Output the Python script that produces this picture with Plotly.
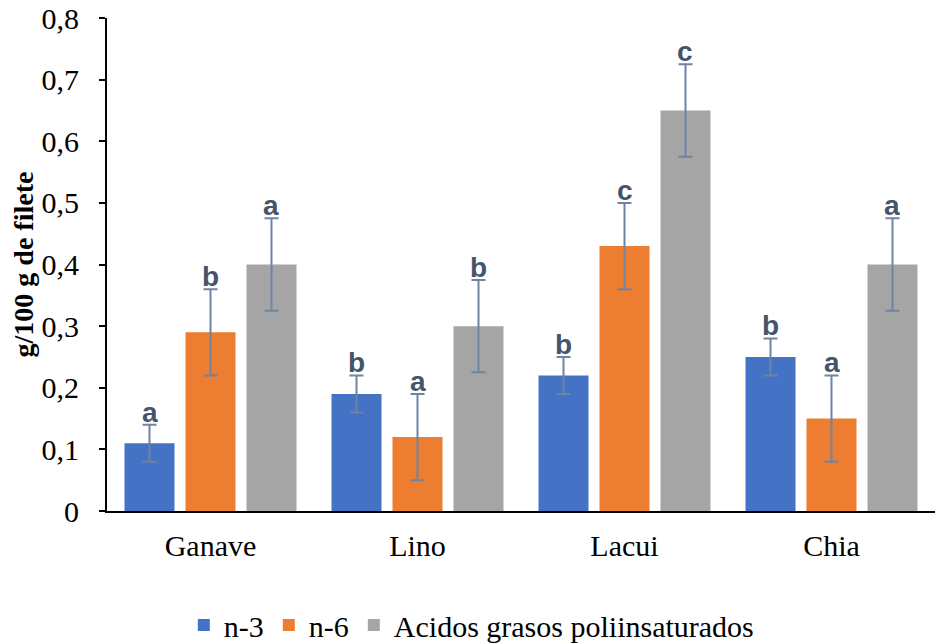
import plotly.graph_objects as go

categories = ["Ganave", "Lino", "Lacui", "Chia"]
series_names = ["n-3", "n-6", "Acidos grasos poliinsaturados"]
n3 = [0.11, 0.19, 0.22, 0.25]
n6 = [0.29, 0.12, 0.43, 0.15]
pufa = [0.40, 0.30, 0.65, 0.40]
n3_err = [0.03, 0.03, 0.03, 0.03]
n6_err = [0.07, 0.07, 0.07, 0.07]
pufa_err = [0.075, 0.075, 0.075, 0.075]
n3_letters = ["a", "b", "b", "b"]
n6_letters = ["b", "a", "c", "a"]
pufa_letters = ["a", "b", "c", "a"]
y_ticks = [0, 0.1, 0.2, 0.3, 0.4, 0.5, 0.6, 0.7, 0.8]
y_ticktext = ["0", "0,1", "0,2", "0,3", "0,4", "0,5", "0,6", "0,7", "0,8"]

colors = ["#4472C4", "#ED7D31", "#A5A5A5"]
err_color = "#6f84a3"

W, H = 938, 644
ml, mr, mt, mb = 107, 3, 18, 133
bargap = 0.116
bargroupgap = 0.18

fig = go.Figure()
values = [n3, n6, pufa]
errs = [n3_err, n6_err, pufa_err]
letters = [n3_letters, n6_letters, pufa_letters]
for name, v, e, c in zip(series_names, values, errs, colors):
    fig.add_trace(go.Bar(
        x=categories, y=v, name=name, marker=dict(color=c, line=dict(width=0)),
        error_y=dict(type="data", array=e, color=err_color, thickness=2, width=7),
    ))

plot_w = W - ml - mr
cat_w = plot_w / len(categories)
slot = cat_w * (1 - bargap) / 3
for i, (v, e, L) in enumerate(zip(values, errs, letters)):
    for cat, vv, ee, ll in zip(categories, v, e, L):
        fig.add_annotation(
            x=cat, y=vv + ee, text="<b>" + ll + "</b>", showarrow=False, yanchor="bottom",
            xshift=(i - 1) * slot, yshift=-5,
            font=dict(family="Liberation Sans, Arial", size=28, color="#44546A"),
        )

fig.update_layout(
    width=W, height=H,
    margin=dict(l=ml, r=mr, t=mt, b=mb, autoexpand=False),
    plot_bgcolor="white", paper_bgcolor="white",
    barmode="group", bargap=bargap, bargroupgap=bargroupgap,
    font=dict(family="Liberation Serif, Times New Roman", color="black"),
    legend=dict(
        orientation="h", x=0.44, xanchor="center", y=-0.231, yanchor="middle",
        font=dict(family="Liberation Serif", size=30, color="black"),
        itemwidth=30, traceorder="normal",
    ),
    showlegend=True,
)
fig.update_xaxes(
    showline=True, linecolor="black", linewidth=2, ticks="",
    tickfont=dict(family="Liberation Serif", size=30, color="black"),
    showgrid=False, automargin=False, ticklabelstandoff=7,
)
fig.update_yaxes(
    range=[0, 0.8], tickvals=y_ticks, ticktext=y_ticktext,
    showline=True, linecolor="black", linewidth=2, ticks="outside", ticklen=6,
    tickwidth=2, tickcolor="black",
    tickfont=dict(family="Liberation Serif", size=30, color="black"),
    showgrid=False, zeroline=False, automargin=False, ticklabelstandoff=14,
    ticklabeloverflow="allow",
    title=dict(text="<b>g/100 g de filete</b>", font=dict(family="Liberation Serif", size=28, color="black"), standoff=0),
)

fig.write_html("out.html", post_script="document.body.style.margin='0px';",
               config={"displayModeBar": False})
